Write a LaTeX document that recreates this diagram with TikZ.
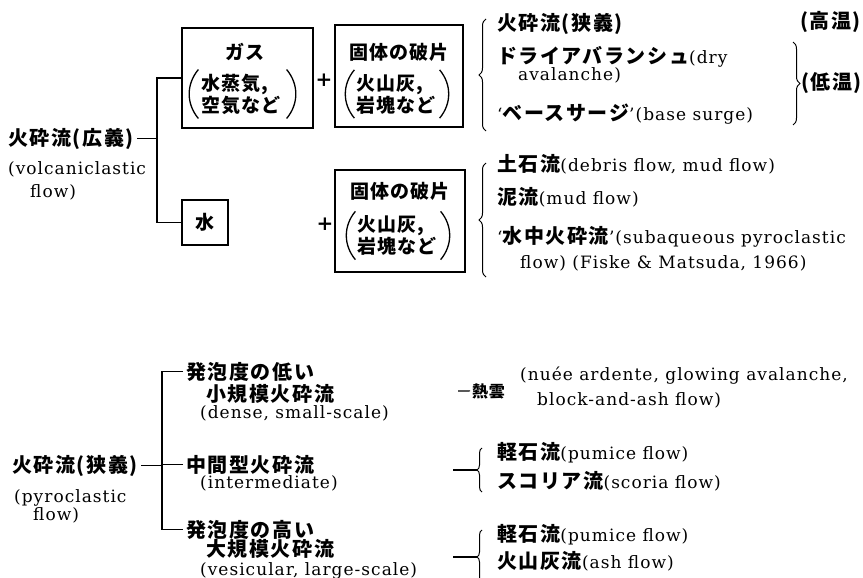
\documentclass[tikz,border=0pt]{standalone}
\usepackage{fontspec}
\setmainfont{DejaVu Serif}[LetterSpace=6]
\newfontfamily\jpf{Noto Sans CJK JP}[LetterSpace=5]
\newfontfamily\jpl{Noto Sans CJK JP}[LetterSpace=8]
\usetikzlibrary{decorations.pathreplacing}
\newcommand\en{\fontsize{17}{20}\selectfont}
\newcommand\jps{\jpf\bfseries\fontsize{19}{22}\selectfont}
\newcommand\J[1]{{\jpl\bfseries\fontsize{20}{22}\selectfont #1}}
\begin{document}
\begin{tikzpicture}[x=1pt,y=-1pt,
  lbl/.style={anchor=base west, inner sep=0pt, font=\en},
  jp/.style={inner sep=0pt, font=\jps},
  box/.style={draw, line width=1.1pt, inner sep=0pt},
  ln/.style={line width=1.1pt},
  par/.style={line width=1.3pt},
  plus/.style={inner sep=0pt, font=\bfseries\fontsize{20}{20}\selectfont},
  brc/.style={decorate, decoration={brace, amplitude=7pt}, line width=1pt},
  sbrc/.style={decorate, decoration={brace, amplitude=5pt}, line width=1pt},
]
\useasboundingbox (0,0) rectangle (863,578);

% ---------- upper part ----------
\node[lbl] (wide) at (8,145) {\J{火砕流(広義)}};
\node[lbl] (wideA) at (8,175) {(volcaniclastic};
\node[lbl] (wideB) at (30,197) {flow)};
\coordinate (bx) at (157,0);

\node[box, minimum width=131pt, minimum height=100pt] (gas) at (247.5,78) {};
\node[jp] (gasT) at (245,52) {ガス};
\node[jp, align=left] (gasL) at (241,94) {水蒸気,\\空気など};
\draw[par] ([xshift=-3pt,yshift=4pt]gasL.north west) to[bend right=40] ([xshift=-3pt,yshift=-4pt]gasL.south west);
\draw[par] ([xshift=6pt,yshift=4pt]gasL.north east) to[bend left=40] ([xshift=6pt,yshift=-4pt]gasL.south east);

\node[box, minimum width=46pt, minimum height=45pt, font=\jps] (water) at (205,222.5) {水};

\draw[ln] ([xshift=3pt]wide.east) -- (wide.east -| bx);
\draw[ln] (gas.west) -- (gas.west -| bx) -- (water.west -| bx) -- (water.west);

\node[plus] (plusA) at (324,80) {+};
\node[plus] (plusB) at (325,224) {+};

\node[box, minimum width=128pt, minimum height=102pt] (solA) at (399,76) {};
\node[jp] (solAT) at (399,52) {固体の破片};
\node[jp, align=left] (solAL) at (396,94) {火山灰,\\岩塊など};
\draw[par] ([xshift=-2pt,yshift=4pt]solAL.north west) to[bend right=40] ([xshift=-2pt,yshift=-4pt]solAL.south west);
\draw[par] ([xshift=4pt,yshift=4pt]solAL.north east) to[bend left=40] ([xshift=4pt,yshift=-4pt]solAL.south east);

\node[box, minimum width=130pt, minimum height=102pt] (solB) at (400,221) {};
\node[jp] (solBT) at (400,191) {固体の破片};
\node[jp, align=left] (solBL) at (397,235.5) {火山灰,\\岩塊など};
\draw[par] ([xshift=-2pt,yshift=4pt]solBL.north west) to[bend right=40] ([xshift=-2pt,yshift=-4pt]solBL.south west);
\draw[par] ([xshift=4pt,yshift=4pt]solBL.north east) to[bend left=40] ([xshift=4pt,yshift=-4pt]solBL.south east);

% right column, gas group
\coordinate (braT1) at (486,131);
\coordinate (braT2) at (486,19);
\draw[brc] (braT1) -- (braT2);
\node[lbl] (r1) at (497,31) {\J{火砕流(狭義)}};
\node[lbl] (hot) at (800,29) {\J{(高温)}};
\node[lbl] (r2) at (497,64) {\J{ドライアバランシュ}(dry};
\node[lbl] (r2b) at (518,81) {avalanche)};
\node[lbl] (r3) at (497,121) {‘\J{ベースサージ}’(base surge)};
\coordinate (braC1) at (793,42);
\coordinate (braC2) at (793,125);
\draw[brc] (braC1) -- (braC2);
\node[lbl] (cold) at (801,89) {\J{(低温)}};

% right column, water group
\coordinate (braW1) at (486,277);
\coordinate (braW2) at (486,163);
\draw[brc] (braW1) -- (braW2);
\node[lbl] (s1) at (497,171) {\J{土石流}(debris flow, mud flow)};
\node[lbl] (s2) at (497,204) {\J{泥流}(mud flow)};
\node[lbl] (s3) at (497,243) {‘\J{水中火砕流}’(subaqueous pyroclastic};
\node[lbl] (s3b) at (520,268) {flow) (Fiske \& Matsuda, 1966)};

% ---------- lower part ----------
\node[lbl] (narrow) at (12,472) {\J{火砕流(狭義)}};
\node[lbl] (narrowA) at (14,502) {(pyroclastic};
\node[lbl] (narrowB) at (33,520) {flow)};
\coordinate (vx) at (162,0);

\node[lbl] (d1) at (186,379) {\J{発泡度の低い}};
\node[lbl] (d1b) at (206,401) {\J{小規模火砕流}};
\node[lbl] (d1c) at (200,418) {(dense, small-scale)};
\node[lbl] (d2) at (186,472) {\J{中間型火砕流}};
\node[lbl] (d2b) at (200,488) {(intermediate)};
\node[lbl] (d3) at (186,537) {\J{発泡度の高い}};
\node[lbl] (d3b) at (206,556) {\J{大規模火砕流}};
\node[lbl] (d3c) at (200,575) {(vesicular, large-scale)};

\draw[ln] ([xshift=3pt]narrow.east) -- (narrow.east -| vx);
\draw[ln] ([xshift=-3pt]d1.west) -- (d1.west -| vx) -- (d3.west -| vx) -- ([xshift=-3pt]d3.west);
\draw[ln] ([xshift=-3pt]d2.west) -- (d2.west -| vx);

% nuee ardente
\node[lbl, font=\jpf\bfseries\fontsize{16}{18}\selectfont] (cloud) at (472,397) {熱雲};
\coordinate (cd) at (458,391);
\draw[ln] (cd) -- ([xshift=-2pt]cloud.west);
\node[lbl] (na) at (520,380) {(nuée ardente, glowing avalanche,};
\node[lbl] (nb) at (537,405) {block-and-ash flow)};

% intermediate group
\coordinate (g1a) at (482,492);
\coordinate (g1b) at (482,448);
\draw[sbrc] (g1a) -- (g1b);
\coordinate (g1d) at (453,470);
\coordinate (g1t) at (477,470);
\draw[ln] (g1d) -- (g1t);
\node[lbl] (p1) at (497,459) {\J{軽石流}(pumice flow)};
\node[lbl] (p2) at (497,488) {\J{スコリア流}(scoria flow)};

% vesicular group
\coordinate (g2a) at (482,584);
\coordinate (g2b) at (482,530);
\draw[sbrc] (g2a) -- (g2b);
\coordinate (g2d) at (453,557);
\coordinate (g2t) at (477,557);
\draw[ln] (g2d) -- (g2t);
\node[lbl] (q1) at (497,541) {\J{軽石流}(pumice flow)};
\node[lbl] (q2) at (497,568) {\J{火山灰流}(ash flow)};
\end{tikzpicture}
\end{document}
